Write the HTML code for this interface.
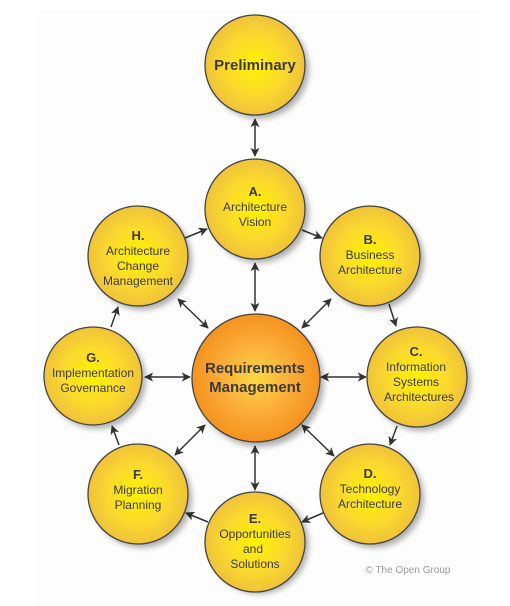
<!DOCTYPE html>
<html><head><meta charset="utf-8"><style>
html,body{margin:0;padding:0;background:#fff;}
svg{display:block;}
text{font-family:"Liberation Sans",Arial,sans-serif;fill:#3a3a3a;text-anchor:middle;}
.l{font-weight:bold;font-size:13px;}
.t{font-size:12px;}
</style></head><body>
<svg width="510" height="606" viewBox="0 0 510 606" xmlns="http://www.w3.org/2000/svg">
<defs>
<radialGradient id="y" cx="50%" cy="50%" r="50%">
<stop offset="0" stop-color="#fff200"/><stop offset="0.6" stop-color="#fbd92e"/><stop offset="1" stop-color="#efc23a"/>
</radialGradient>
<radialGradient id="o" cx="50%" cy="50%" r="50%">
<stop offset="0" stop-color="#fdd840"/><stop offset="0.5" stop-color="#fbb03b"/><stop offset="1" stop-color="#f5921e"/>
</radialGradient>
<filter id="s" x="-20%" y="-20%" width="150%" height="150%"><feGaussianBlur stdDeviation="3"/></filter>
<marker id="a" viewBox="0 0 10 10" refX="9" refY="5" markerWidth="9" markerHeight="9" markerUnits="userSpaceOnUse" orient="auto-start-reverse"><path d="M0,0 L10,5 L0,10 L2.5,5 z" fill="#333"/></marker>
</defs>
<rect x="37" y="9" width="443" height="597" fill="#fdfdfd"/>
<g stroke="#333" stroke-width="1.5" fill="none">
<line x1="255" y1="119" x2="255" y2="156" marker-start="url(#a)" marker-end="url(#a)"/>
<line x1="302" y1="230" x2="322" y2="238" marker-end="url(#a)"/>
<line x1="185" y1="238" x2="207" y2="229" marker-end="url(#a)"/>
<line x1="389" y1="304" x2="396" y2="326" marker-end="url(#a)"/>
<line x1="111" y1="327" x2="118" y2="307" marker-end="url(#a)"/>
<line x1="397" y1="426" x2="390" y2="445" marker-end="url(#a)"/>
<line x1="119" y1="445" x2="112" y2="426" marker-end="url(#a)"/>
<line x1="323" y1="513" x2="302" y2="522" marker-end="url(#a)"/>
<line x1="208" y1="522" x2="186" y2="513" marker-end="url(#a)"/>
<line x1="255" y1="263" x2="255" y2="311" marker-start="url(#a)" marker-end="url(#a)"/>
<line x1="178" y1="299" x2="208" y2="328" marker-start="url(#a)" marker-end="url(#a)"/>
<line x1="331" y1="299" x2="302" y2="328" marker-start="url(#a)" marker-end="url(#a)"/>
<line x1="145" y1="377" x2="190" y2="377" marker-start="url(#a)" marker-end="url(#a)"/>
<line x1="321" y1="377" x2="366" y2="377" marker-start="url(#a)" marker-end="url(#a)"/>
<line x1="175" y1="455" x2="205" y2="425" marker-start="url(#a)" marker-end="url(#a)"/>
<line x1="302" y1="425" x2="334" y2="456" marker-start="url(#a)" marker-end="url(#a)"/>
<line x1="255" y1="446" x2="255" y2="490" marker-start="url(#a)" marker-end="url(#a)"/>
</g>
<g fill="#000" opacity="0.3" filter="url(#s)">
<circle cx="259" cy="69" r="50"/><circle cx="259" cy="213" r="50"/><circle cx="142" cy="260" r="50"/><circle cx="374" cy="260" r="50"/>
<circle cx="97" cy="380" r="49"/><circle cx="260" cy="383" r="64"/><circle cx="421" cy="381" r="50"/>
<circle cx="142" cy="498" r="50"/><circle cx="374" cy="498" r="50"/><circle cx="259" cy="544" r="50"/>
</g>
<g fill="url(#y)" stroke="#444" stroke-width="1.3">
<circle cx="255" cy="65" r="50"/><circle cx="255" cy="209" r="50"/><circle cx="138" cy="256" r="50"/><circle cx="370" cy="256" r="50"/>
<circle cx="93" cy="376" r="49"/><circle cx="417" cy="377" r="50"/>
<circle cx="138" cy="494" r="50"/><circle cx="370" cy="494" r="50"/><circle cx="255" cy="542" r="50"/>
</g>
<circle cx="256" cy="378" r="64" fill="url(#o)" stroke="#444" stroke-width="1.3"/>
<text x="255" y="70" style="font-weight:bold;font-size:15px">Preliminary</text>
<text class="l" x="255" y="196">A.</text><text class="t" x="255" y="211">Architecture</text><text class="t" x="255" y="226">Vision</text>
<text class="l" x="138" y="240">H.</text><text class="t" x="138" y="255">Architecture</text><text class="t" x="138" y="270">Change</text><text class="t" x="138" y="285">Management</text>
<text class="l" x="370" y="244">B.</text><text class="t" x="370" y="259">Business</text><text class="t" x="370" y="274">Architecture</text>
<text class="l" x="93" y="362">G.</text><text class="t" x="93" y="377">Implementation</text><text class="t" x="93" y="392">Governance</text>
<text x="255" y="373" style="font-weight:bold;font-size:15px">Requirements</text><text x="255" y="392" style="font-weight:bold;font-size:15px">Management</text>
<text class="l" x="416" y="356">C.</text><text class="t" x="416" y="371">Information</text><text class="t" x="416" y="386">Systems</text><text class="t" x="419" y="401">Architectures</text>
<text class="l" x="138" y="479">F.</text><text class="t" x="138" y="494">Migration</text><text class="t" x="138" y="509">Planning</text>
<text class="l" x="370" y="478">D.</text><text class="t" x="370" y="493">Technology</text><text class="t" x="370" y="508">Architecture</text>
<text class="l" x="255" y="523">E.</text><text class="t" x="255" y="538">Opportunities</text><text class="t" x="253" y="553">and</text><text class="t" x="255" y="568">Solutions</text>
<text x="408" y="573" style="font-size:10px;fill:#999">© The Open Group</text>
</svg>
</body></html>
